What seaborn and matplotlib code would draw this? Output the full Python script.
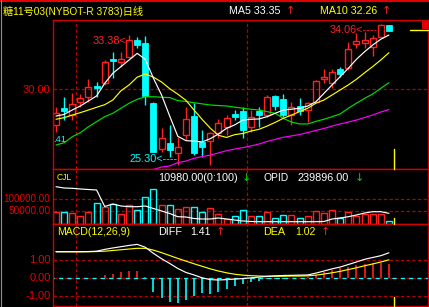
import numpy as np
import pandas as pd
import matplotlib
matplotlib.use("Agg")
import matplotlib.pyplot as plt
import seaborn as sns
from matplotlib.patches import Rectangle
from matplotlib.lines import Line2D

# ---------------- data ----------------
title_text = "糖11号03(NYBOT-R 3783)日线"
opens = [27.80, 28.83, 28.41, 29.23, 29.54, 30.20, 30.37, 31.87, 31.67, 31.98,
         33.07, 32.88, 29.17, 26.30, 26.67, 26.05, 27.18, 28.35, 26.77, 26.83,
         27.28, 27.69, 28.48, 28.68, 27.65, 28.68, 28.41, 29.59, 29.38, 28.41,
         28.99, 28.72, 29.23, 30.62, 30.41, 31.23, 31.30, 32.80, 32.88, 32.59,
         33.25, 33.97]
closes = [28.56, 28.68, 29.07, 29.44, 30.12, 30.10, 31.67, 31.73, 31.85, 33.07,
          32.73, 29.59, 26.15, 26.98, 26.25, 26.42, 28.15, 26.09, 26.46, 27.28,
          27.90, 28.21, 28.31, 27.49, 28.31, 28.41, 29.51, 28.97, 28.41, 28.93,
          28.68, 29.14, 30.51, 30.74, 31.09, 30.94, 32.47, 32.98, 33.04, 33.15,
          33.97, 33.62]
highs = [28.91, 29.54, 29.75, 29.71, 30.62, 30.47, 31.81, 32.28, 32.28, 33.38,
         33.23, 33.30, 29.20, 27.59, 27.80, 27.07, 28.89, 29.14, 27.49, 27.38,
         28.17, 28.41, 28.72, 28.89, 28.72, 28.89, 29.65, 29.65, 29.71, 29.23,
         29.44, 29.23, 30.57, 31.23, 31.23, 31.40, 32.94, 33.46, 33.56, 33.35,
         34.06, 33.97]
lows = [27.38, 28.10, 28.10, 28.89, 29.23, 29.51, 30.27, 30.68, 31.40, 31.98,
        32.55, 29.03, 26.10, 26.15, 25.84, 25.30, 26.87, 25.94, 25.84, 25.35,
        26.98, 27.18, 28.10, 26.98, 27.38, 27.65, 28.31, 28.72, 28.31, 27.80,
        28.41, 28.00, 29.22, 30.37, 30.06, 30.78, 31.19, 32.53, 32.53, 32.06,
        33.25, 33.62]
ma5 = [28.35, 28.45, 28.72, 28.97, 29.28, 29.59, 30.37, 30.99, 31.40, 31.81,
       32.22, 31.85, 30.68, 29.65, 28.35, 27.10, 26.83, 26.80, 26.75, 26.95,
       27.24, 27.59, 27.80, 28.10, 28.15, 28.17, 28.31, 28.52, 28.72, 28.77,
       28.83, 28.97, 29.23, 29.75, 30.27, 30.78, 31.30, 31.85, 32.32, 32.73,
       33.09, 33.35]
ma10 = [28.15, 28.25, 28.41, 28.56, 28.72, 28.89, 29.05, 29.34, 29.91, 30.27,
        30.75, 30.94, 30.75, 30.45, 30.04, 29.70, 29.32, 28.72, 28.14, 27.60,
        27.16, 27.03, 27.20, 27.27, 27.42, 27.53, 27.73, 27.96, 28.21, 28.41,
        28.62, 28.83, 29.14, 29.34, 29.65, 29.96, 30.27, 30.62, 31.02, 31.40,
        31.81, 32.26]
ma20 = [26.56, 26.70, 27.07, 27.32, 27.69, 28.00, 28.31, 28.52, 28.83, 29.14,
        29.38, 29.54, 29.54, 29.51, 29.49, 29.30, 29.25, 29.17, 29.10, 29.03,
        29.00, 28.97, 28.90, 28.83, 28.77, 28.72, 28.62, 28.52, 28.20, 27.98,
        27.86, 27.86, 28.02, 28.15, 28.31, 28.48, 28.83, 29.14, 29.44, 29.71,
        30.06, 30.41]
ma60 = [np.nan] * 12 + [
        25.05, 25.20, 25.27, 25.47, 25.57, 25.74, 25.85, 25.94, 26.07, 26.21,
        26.31, 26.40, 26.50, 26.62, 26.78, 26.91, 27.04, 27.12, 27.21, 27.33,
        27.46, 27.58, 27.73, 27.86, 27.98, 28.10, 28.26, 28.41, 28.60, 28.75]
volume = [48000, 48000, 43000, 32000, 48000, 83000, 66000, 77000, 39000, 75000,
          55000, 106000, 140000, 73000, 73000, 59000, 66000, 66000, 48000, 63000,
          39000, 19000, 32000, 56000, 30000, 30000, 46000, 23000, 35000, 35000,
          23000, 32000, 52000, 43000, 56000, 23000, 46000, 32000, 39000, 39000,
          39000, 10980]
opid = [266500, 265200, 264900, 264200, 263700, 263200, 246700, 249200, 247200, 246500,
        246500, 247200, 244700, 242200, 239700, 236500, 236200, 234700, 234200, 234200,
        235200, 234200, 233200, 232200, 231700, 231500, 231500, 231500, 231500, 231500,
        231500, 231500, 231500, 231700, 234200, 235200, 236500, 238200, 240200, 241500,
        241500, 239896]
diff = [1.47, 1.47, 1.47, 1.47, 1.48, 1.50, 1.60, 1.68, 1.75, 1.82,
        1.88, 1.72, 1.38, 1.08, 0.82, 0.54, 0.32, 0.18, 0.02, -0.08,
        -0.10, -0.08, -0.05, -0.02, 0.02, 0.06, 0.10, 0.13, 0.15, 0.16,
        0.17, 0.18, 0.28, 0.40, 0.52, 0.62, 0.76, 0.90, 1.05, 1.15,
        1.25, 1.41]
dea = [1.47, 1.47, 1.47, 1.47, 1.47, 1.48, 1.50, 1.54, 1.58, 1.62,
       1.66, 1.66, 1.56, 1.42, 1.26, 1.10, 0.95, 0.80, 0.66, 0.52,
       0.40, 0.30, 0.22, 0.17, 0.14, 0.12, 0.11, 0.11, 0.11, 0.12,
       0.12, 0.13, 0.17, 0.23, 0.30, 0.38, 0.48, 0.58, 0.69, 0.79,
       0.90, 1.02]
macd_hist = [0, 0, 0, 0, 0, 0, 0.18, 0.25, 0.35, 0.41,
             0.42, 0.05, -0.76, -1.10, -1.35, -1.40, -1.20, -1.00, -0.85, -0.87,
             -0.76, -0.60, -0.41, -0.35, -0.22, -0.13, -0.06, -0.04, -0.02, 0.02,
             0.02, 0.04, 0.20, 0.32, 0.48, 0.54, 0.63, 0.74, 0.79, 0.82,
             0.86, 0.78]
month_starts = [3, 24]
price_ticks = [30.0]
vol_ticks = [100000, 50000]
macd_ticks = [1.0, 0.0, -1.0]
hi_label_a = (9, "33.38<")
hi_label_b = (40, "34.06<----")
lo_label = (15, "25.30<----")

# ---------------- style ----------------
sns.set_style("dark")
plt.rcParams["font.family"] = ["Liberation Sans", "Noto Sans CJK SC", "DejaVu Sans"]
plt.rcParams["lines.scale_dashes"] = False

RED = "#FF2020"
CYAN = "#00FFFF"
FRAME = "#D00000"
GRID = "#B00000"
LBL = "#E80000"
YEL = "#FFFF00"
GRN = "#00DD00"
MAG = "#FF00FF"
DASH = (0, (2.5, 1.6))
LW = 0.85

W, H = 429, 307
fig = plt.figure(figsize=(W / 100, H / 100), dpi=100, facecolor="black")
renderer = fig.canvas.get_renderer()


def fx(x):
    return x / W


def fy(y):
    return 1 - y / H


def put(x0, x1, y, s, color, size=8.0, fit=True, family=None, ha="left"):
    kw = {}
    if family:
        kw["family"] = family
    xa = x0 if ha == "left" else x1
    t = fig.text(fx(xa), fy(y), s, color=color, fontsize=size, ha=ha, va="center", **kw)
    if fit:
        for _ in range(2):
            w = t.get_window_extent(renderer).width
            t.set_fontsize(t.get_fontsize() * (x1 - x0) / w)
    return t


idx = np.arange(len(closes))
PX = 8.12  # pixel spacing between candles
XL = (-3 / PX, (428 - 56) / PX)


def panel(top, bottom):
    ax = fig.add_axes([fx(53), fy(bottom), (428 - 53) / W, (bottom - top) / H])
    ax.set_facecolor("black")
    for s in ax.spines.values():
        s.set_color(FRAME)
        s.set_linewidth(1.0)
    ax.set_xticks([])
    ax.set_yticks([])
    ax.set_xlim(*XL)
    for m in month_starts:
        ax.axvline(m - 0.5, color=GRID, lw=0.9, ls=DASH, zorder=1)
    return ax


def clean(ax):
    ax.set_xlabel("")
    ax.set_ylabel("")
    ax.set_xticks([])
    ax.set_yticks([])
    ax.set_xlim(*XL)


# ---------------- main price panel ----------------
axm = panel(20, 169)
axm.set_ylim(25.08, 34.278)
for p in price_ticks:
    axm.axhline(p, color=GRID, lw=0.9, ls=DASH, zorder=1)

BW = 0.74
for i in idx:
    o, c, h, l = opens[i], closes[i], highs[i], lows[i]
    if c >= o:
        axm.vlines(i, c, h, color=RED, lw=1.0, zorder=2)
        axm.vlines(i, l, o, color=RED, lw=1.0, zorder=2)
        axm.add_patch(Rectangle((i - BW / 2, o), BW, max(c - o, 0.03), fill=False,
                                edgecolor=RED, lw=1.0, zorder=2))
    else:
        axm.vlines(i, l, h, color=CYAN, lw=1.0, zorder=2)
        axm.add_patch(Rectangle((i - BW / 2, c), BW, max(o - c, 0.06), facecolor=CYAN,
                                edgecolor=CYAN, lw=0.6, zorder=2))

df = pd.DataFrame({"idx": idx, "ma5": ma5, "ma10": ma10, "ma20": ma20, "ma60": ma60,
                   "opid": opid, "diff": diff, "dea": dea})
for col, colr in [("ma60", MAG), ("ma20", GRN), ("ma10", YEL), ("ma5", "white")]:
    sub = df.dropna(subset=[col])
    sns.lineplot(data=sub, x="idx", y=col, ax=axm, color=colr, lw=LW,
                 estimator=None, zorder=3, legend=False)
clean(axm)
axm.set_ylim(25.08, 34.278)

for (i, s), dy in [(hi_label_a, -6), (hi_label_b, -6.5)]:
    axm.annotate(s, xy=(i, highs[i]), xytext=(-3, dy), textcoords="offset pixels",
                 ha="right", va="center", color=RED, fontsize=7.8, zorder=5)
i, s = lo_label
axm.annotate(s, xy=(i, lows[i]), xytext=(0, 6), textcoords="offset pixels",
             ha="right", va="center", color=CYAN, fontsize=7.8, zorder=5)

# ---------------- volume panel ----------------
axv = panel(169, 223.5)
vtop = 54.5 / 12.4 * 50000
axv.set_ylim(0, vtop)
for v in vol_ticks:
    axv.axhline(v, color=GRID, lw=0.9, ls=DASH, zorder=1)
vcolors = [RED if closes[k] >= opens[k] else CYAN for k in idx]
axv.bar(idx, volume, width=BW, fill=False, edgecolor=vcolors, linewidth=1.0, zorder=2)
axo = axv.twinx()
sns.lineplot(data=df, x="idx", y="opid", ax=axo, color="white", lw=LW,
             estimator=None, legend=False)
for s in axo.spines.values():
    s.set_visible(False)
clean(axo)
axo.set_ylim(229700, 284200)
axv.set_ylim(0, vtop)

# ---------------- MACD panel ----------------
axd = panel(223.5, 305.5)
axd.set_ylim(-1.517, 3.039)
for v in macd_ticks:
    axd.axhline(v, color=GRID, lw=0.9, ls=DASH, zorder=1)
axd.axhline(0, color=CYAN, lw=0.9, ls=(2.0, (3.0, 3.0)), zorder=1)
hcol = [RED if v > 0 else CYAN for v in macd_hist]
axd.vlines(idx, 0, macd_hist, colors=hcol, lw=1.2, zorder=2)
sns.lineplot(data=df, x="idx", y="dea", ax=axd, color=YEL, lw=LW, estimator=None, zorder=3)
sns.lineplot(data=df, x="idx", y="diff", ax=axd, color="white", lw=LW, estimator=None, zorder=3)
clean(axd)
axd.set_ylim(-1.517, 3.039)

# ---------------- left axis labels ----------------
def left_label(y, s, size=8.0):
    fig.text(fx(50.5), fy(y), s, color=LBL, fontsize=size, ha="right", va="center")

left_label(90, "30.00")
put(3, 50.5, 198.5, "100000.00", LBL, 7.2, ha="right")
left_label(211, "50000.00", 7.2)
left_label(260.2, "1.00")
left_label(278.2, "0.00")
left_label(296.2, "-1.00")

# ---------------- header texts ----------------
put(3, 143, 11, title_text, YEL, 9)
put(229, 280, 11.5, "MA5 33.35", "white", 8)
put(286, 292, 11.5, "↑", RED, 8, fit=False, family=["DejaVu Sans"])
put(320, 377, 11.5, "MA10 32.26", YEL, 8)
put(382, 388, 11.5, "↑", RED, 8, fit=False, family=["DejaVu Sans"])

put(57, 72, 178, "CJL", YEL, 8)
put(158, 237, 178, "10980.00(0:100)", "white", 8)
put(242, 248, 178, "↓", GRN, 8, fit=False, family=["DejaVu Sans"])
put(263, 288, 178, "OPID", "white", 8)
put(298, 349, 178, "239896.00", "white", 8)
put(355, 361, 178, "↓", GRN, 8, fit=False, family=["DejaVu Sans"])

put(57, 130, 232, "MACD(12,26,9)", YEL, 8)
put(158, 182, 232, "DIFF", "white", 8)
put(190, 210, 232, "1.41", "white", 8)
put(216, 222, 232, "↑", RED, 8, fit=False, family=["DejaVu Sans"])
put(263, 285, 232, "DEA", YEL, 8)
put(295, 315, 232, "1.02", YEL, 8)
put(321, 327, 232, "↑", RED, 8, fit=False, family=["DejaVu Sans"])

put(53, 66, 139, ".41", CYAN, 8)

# ---------------- frame decorations ----------------
fig.add_artist(Line2D([0, 1], [fy(1.2), fy(1.2)], transform=fig.transFigure, color="#E00000", lw=1.5))
fig.add_artist(Line2D([fx(0.5), fx(0.5)], [0, 1], transform=fig.transFigure, color="#909090", lw=0.8))
fig.add_artist(Line2D([fx(410), fx(428)], [fy(30), fy(30)], transform=fig.transFigure, color=YEL, lw=1.0))
fig.add_artist(Rectangle((fx(422), fy(29)), 6 / W, 8 / H, transform=fig.transFigure,
                         facecolor="#E00000", edgecolor="none"))
for a, b in [(149, 169), (218, 223.5), (297, 305.5)]:
    fig.add_artist(Line2D([fx(394), fx(394)], [fy(a), fy(b)], transform=fig.transFigure,
                          color=YEL, lw=1.0))

fig.savefig("out.png", dpi=100, facecolor="black")
